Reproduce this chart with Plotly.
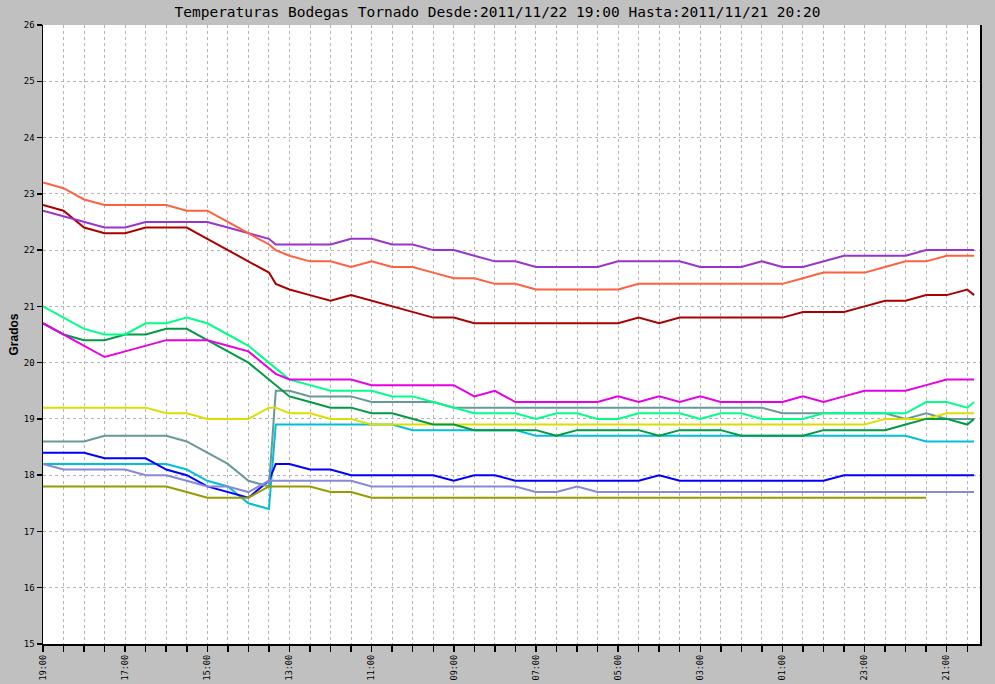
import plotly.graph_objects as go

# Minutes before 2011/11/22 19:00 (time runs backwards to 2011/11/21 20:20)
minutos = [0, 30, 60, 90, 120, 150, 180, 210, 240, 270, 300, 330, 340,
           360, 390, 420, 450, 480, 510, 540, 570, 600, 630, 660, 690,
           720, 750, 780, 810, 840, 870, 900, 930, 960, 990, 1020, 1050,
           1080, 1110, 1140, 1170, 1200, 1230, 1260, 1290, 1320, 1350, 1360]

naranja = [23.2, 23.1, 22.9, 22.8, 22.8, 22.8, 22.8, 22.7, 22.7, 22.5, 22.3, 22.1, 22.0,
           21.9, 21.8, 21.8, 21.7, 21.8, 21.7, 21.7, 21.6, 21.5, 21.5, 21.4, 21.4, 21.3,
           21.3, 21.3, 21.3, 21.3, 21.4, 21.4, 21.4, 21.4, 21.4, 21.4, 21.4, 21.4, 21.5,
           21.6, 21.6, 21.6, 21.7, 21.8, 21.8, 21.9, 21.9, 21.9]
morado = [22.7, 22.6, 22.5, 22.4, 22.4, 22.5, 22.5, 22.5, 22.5, 22.4, 22.3, 22.2, 22.1,
          22.1, 22.1, 22.1, 22.2, 22.2, 22.1, 22.1, 22.0, 22.0, 21.9, 21.8, 21.8, 21.7,
          21.7, 21.7, 21.7, 21.8, 21.8, 21.8, 21.8, 21.7, 21.7, 21.7, 21.8, 21.7, 21.7,
          21.8, 21.9, 21.9, 21.9, 21.9, 22.0, 22.0, 22.0, 22.0]
granate = [22.8, 22.7, 22.4, 22.3, 22.3, 22.4, 22.4, 22.4, 22.2, 22.0, 21.8, 21.6, 21.4,
           21.3, 21.2, 21.1, 21.2, 21.1, 21.0, 20.9, 20.8, 20.8, 20.7, 20.7, 20.7, 20.7,
           20.7, 20.7, 20.7, 20.7, 20.8, 20.7, 20.8, 20.8, 20.8, 20.8, 20.8, 20.8, 20.9,
           20.9, 20.9, 21.0, 21.1, 21.1, 21.2, 21.2, 21.3, 21.2]
verde_claro = [21.0, 20.8, 20.6, 20.5, 20.5, 20.7, 20.7, 20.8, 20.7, 20.5, 20.3, 20.0, 19.9,
               19.7, 19.6, 19.5, 19.5, 19.5, 19.4, 19.4, 19.3, 19.2, 19.1, 19.1, 19.1, 19.0,
               19.1, 19.1, 19.0, 19.0, 19.1, 19.1, 19.1, 19.0, 19.1, 19.1, 19.0, 19.0, 19.0,
               19.1, 19.1, 19.1, 19.1, 19.1, 19.3, 19.3, 19.2, 19.3]
verde_oscuro = [20.7, 20.5, 20.4, 20.4, 20.5, 20.5, 20.6, 20.6, 20.4, 20.2, 20.0, 19.7, 19.6,
                19.4, 19.3, 19.2, 19.2, 19.1, 19.1, 19.0, 18.9, 18.9, 18.8, 18.8, 18.8, 18.8,
                18.7, 18.8, 18.8, 18.8, 18.8, 18.7, 18.8, 18.8, 18.8, 18.7, 18.7, 18.7, 18.7,
                18.8, 18.8, 18.8, 18.8, 18.9, 19.0, 19.0, 18.9, 19.0]
magenta = [20.7, 20.5, 20.3, 20.1, 20.2, 20.3, 20.4, 20.4, 20.4, 20.3, 20.2, 19.9, 19.8,
           19.7, 19.7, 19.7, 19.7, 19.6, 19.6, 19.6, 19.6, 19.6, 19.4, 19.5, 19.3, 19.3,
           19.3, 19.3, 19.3, 19.4, 19.3, 19.4, 19.3, 19.4, 19.3, 19.3, 19.3, 19.3, 19.4,
           19.3, 19.4, 19.5, 19.5, 19.5, 19.6, 19.7, 19.7, 19.7]
amarillo = [19.2, 19.2, 19.2, 19.2, 19.2, 19.2, 19.1, 19.1, 19.0, 19.0, 19.0, 19.2, 19.2,
            19.1, 19.1, 19.0, 19.0, 18.9, 18.9, 18.9, 18.9, 18.9, 18.9, 18.9, 18.9, 18.9,
            18.9, 18.9, 18.9, 18.9, 18.9, 18.9, 18.9, 18.9, 18.9, 18.9, 18.9, 18.9, 18.9,
            18.9, 18.9, 18.9, 19.0, 19.0, 19.0, 19.1, 19.1, 19.1]
gris_azulado = [18.6, 18.6, 18.6, 18.7, 18.7, 18.7, 18.7, 18.6, 18.4, 18.2, 17.9, 17.8, 19.5,
                19.5, 19.4, 19.4, 19.4, 19.3, 19.3, 19.3, 19.3, 19.2, 19.2, 19.2, 19.2, 19.2,
                19.2, 19.2, 19.2, 19.2, 19.2, 19.2, 19.2, 19.2, 19.2, 19.2, 19.2, 19.1, 19.1,
                19.1, 19.1, 19.1, 19.1, 19.0, 19.1, 19.0, 19.0, 19.0]
azul = [18.4, 18.4, 18.4, 18.3, 18.3, 18.3, 18.1, 18.0, 17.8, 17.7, 17.6, 17.9, 18.2,
        18.2, 18.1, 18.1, 18.0, 18.0, 18.0, 18.0, 18.0, 17.9, 18.0, 18.0, 17.9, 17.9,
        17.9, 17.9, 17.9, 17.9, 17.9, 18.0, 17.9, 17.9, 17.9, 17.9, 17.9, 17.9, 17.9,
        17.9, 18.0, 18.0, 18.0, 18.0, 18.0, 18.0, 18.0, 18.0]
celeste = [18.2, 18.2, 18.2, 18.2, 18.2, 18.2, 18.2, 18.1, 17.9, 17.8, 17.5, 17.4, 18.9,
           18.9, 18.9, 18.9, 18.9, 18.9, 18.9, 18.8, 18.8, 18.8, 18.8, 18.8, 18.8, 18.7,
           18.7, 18.7, 18.7, 18.7, 18.7, 18.7, 18.7, 18.7, 18.7, 18.7, 18.7, 18.7, 18.7,
           18.7, 18.7, 18.7, 18.7, 18.7, 18.6, 18.6, 18.6, 18.6]
lavanda = [18.2, 18.1, 18.1, 18.1, 18.1, 18.0, 18.0, 17.9, 17.8, 17.8, 17.7, 17.9, 17.9,
           17.9, 17.9, 17.9, 17.9, 17.8, 17.8, 17.8, 17.8, 17.8, 17.8, 17.8, 17.8, 17.7,
           17.7, 17.8, 17.7, 17.7, 17.7, 17.7, 17.7, 17.7, 17.7, 17.7, 17.7, 17.7, 17.7,
           17.7, 17.7, 17.7, 17.7, 17.7, 17.7, 17.7, 17.7, 17.7]
oliva = [17.8, 17.8, 17.8, 17.8, 17.8, 17.8, 17.8, 17.7, 17.6, 17.6, 17.6, 17.8, 17.8,
         17.8, 17.8, 17.7, 17.7, 17.6, 17.6, 17.6, 17.6, 17.6, 17.6, 17.6, 17.6, 17.6,
         17.6, 17.6, 17.6, 17.6, 17.6, 17.6, 17.6, 17.6, 17.6, 17.6, 17.6, 17.6, 17.6,
         17.6, 17.6, 17.6, 17.6, 17.6, 17.6, None, None, None]

# Drawing order (first = bottom)
series = [
    ("celeste", celeste, "#00BFD8"),
    ("azul", azul, "#0000FF"),
    ("gris_azulado", gris_azulado, "#669999"),
    ("oliva", oliva, "#999900"),
    ("lavanda", lavanda, "#8888D8"),
    ("amarillo", amarillo, "#DDDD00"),
    ("verde_oscuro", verde_oscuro, "#009944"),
    ("verde_claro", verde_claro, "#00FF88"),
    ("magenta", magenta, "#E600E6"),
    ("granate", granate, "#AA0000"),
    ("morado", morado, "#9933CC"),
    ("naranja", naranja, "#FF6040"),
]

tick_min = list(range(0, 1351, 30))
tick_txt = []
for m in tick_min:
    if m % 120 == 0:
        hh = (19 * 60 - m) % 1440 // 60
        tick_txt.append(f"{hh:02d}:00")
    else:
        tick_txt.append("")

x_h = [m / 60 for m in minutos]

fig = go.Figure()
for name, vals, col in series:
    fig.add_trace(go.Scatter(x=x_h, y=vals, mode="lines", name=name,
                             line=dict(color=col, width=2), connectgaps=False,
                             hoverinfo="skip"))

fig.update_layout(
    width=995, height=684,
    paper_bgcolor="#C0C0C0", plot_bgcolor="#FFFFFF",
    margin=dict(l=43, r=15, t=25, b=40, autoexpand=False),
    showlegend=False,
    title=dict(text="Temperaturas Bodegas Tornado Desde:2011/11/22 19:00 Hasta:2011/11/21 20:20",
               x=0.5, xref="container", xanchor="center",
               y=1 - 12 / 684, yref="container", yanchor="middle",
               font=dict(family="DejaVu Sans Mono", size=14.5, color="#000000")),
    annotations=[dict(text="<b>Grados</b>", textangle=-90, xref="paper", yref="paper",
                      x=0, y=0.5, xshift=-30, xanchor="center", yanchor="middle",
                      showarrow=False,
                      font=dict(family="Liberation Sans", size=12, color="#000000"))],
)

fig.update_xaxes(
    range=[0, 22.81], tickmode="array", tickvals=[m / 60 for m in tick_min], ticktext=tick_txt,
    tickangle=-90, ticks="outside", ticklen=6, tickwidth=1.5, tickcolor="#000000",
    tickfont=dict(family="DejaVu Sans Mono", size=8.5, color="#000000"),
    showline=True, linecolor="#000000", linewidth=1.5, mirror=False,
    showgrid=True, gridcolor="#B4B4B4", griddash="dot", gridwidth=1,
    zeroline=False, fixedrange=True, automargin=False,
)
fig.update_yaxes(
    range=[15, 26], tickmode="array", tickvals=list(range(15, 27)),
    ticktext=[str(v) for v in range(15, 27)],
    ticks="outside", ticklen=5, tickwidth=1.5, tickcolor="#000000",
    tickfont=dict(family="DejaVu Sans Mono", size=9, color="#000000"),
    showline=True, linecolor="#000000", linewidth=1.5, mirror=True,
    showgrid=True, gridcolor="#B4B4B4", griddash="dot", gridwidth=1,
    zeroline=False, fixedrange=True, automargin=False,
)

fig.write_html("out.html", config={"displayModeBar": False, "staticPlot": True})

# remove the browser's default 8px page margin so the figure sits at (0, 0)
with open("out.html", "r", encoding="utf-8") as f:
    html = f.read()
html = html.replace("<head>", "<head><style>html,body{margin:0;padding:0;background:#C0C0C0;}</style>", 1)
with open("out.html", "w", encoding="utf-8") as f:
    f.write(html)
